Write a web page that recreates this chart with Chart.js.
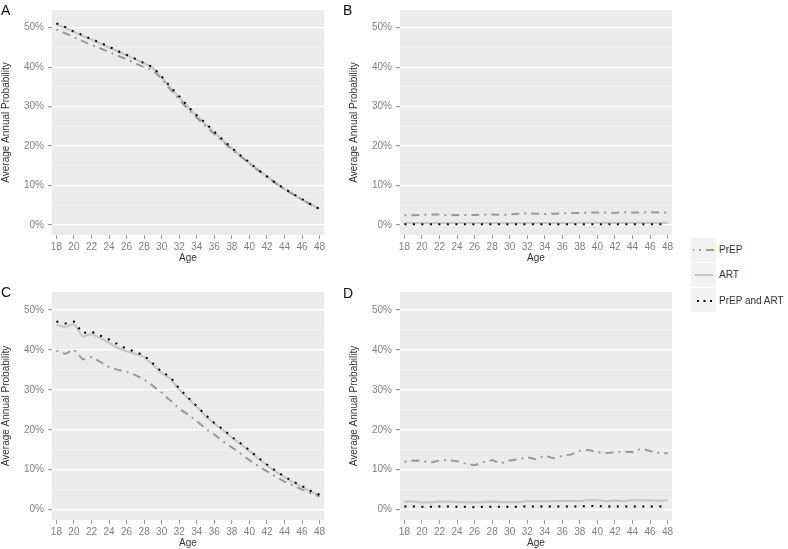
<!DOCTYPE html>
<html>
<head>
<meta charset="utf-8">
<script src="https://cdn.jsdelivr.net/npm/chart.js@4/dist/chart.umd.min.js"></script>
<style>
  html, body { margin:0; padding:0; background:#ffffff; }
  body { width:788px; height:549px; position:relative; overflow:hidden; font-family:'Liberation Sans', Arial, sans-serif; }
  .cv { position:absolute; }
  .letter { position:absolute; font-size:14px; line-height:14px; color:#111; }
  .key { position:absolute; left:691px; width:25px; height:24px; background:#f2f2f2; }
  .key svg { position:absolute; left:0; top:0; }
  .ktxt { position:absolute; left:719px; font-size:10px; line-height:12px; color:#333; }
</style>
</head>
<body>
<canvas id="cA" class="cv" width="332" height="264" style="left:0px;top:0px;"></canvas>
<canvas id="cB" class="cv" width="332" height="264" style="left:348px;top:0px;"></canvas>
<canvas id="cC" class="cv" width="332" height="279" style="left:0px;top:270px;"></canvas>
<canvas id="cD" class="cv" width="332" height="279" style="left:348px;top:270px;"></canvas>
<div class="letter" style="left:1px;top:3px;">A</div>
<div class="letter" style="left:343px;top:3px;">B</div>
<div class="letter" style="left:1px;top:285px;">C</div>
<div class="letter" style="left:343px;top:286px;">D</div>

<div class="key" style="top:238px;"><svg width="25" height="24"><line x1="2" y1="12" x2="24" y2="12" stroke="#9a9a9a" stroke-width="2" stroke-dasharray="2,5,8,5" stroke-dashoffset="-6"/></svg></div>
<div class="ktxt" style="top:244px;">PrEP</div>
<div class="key" style="top:263px;"><svg width="25" height="24"><line x1="4" y1="12" x2="22" y2="12" stroke="#c8c8c8" stroke-width="2"/></svg></div>
<div class="ktxt" style="top:269px;">ART</div>
<div class="key" style="top:288px;"><svg width="25" height="24"><line x1="6" y1="13" x2="24" y2="13" stroke="#000" stroke-width="2" stroke-dasharray="2,4.5"/></svg></div>
<div class="ktxt" style="top:295px;">PrEP and ART</div>

<script>
// ---- data ----
const ages = [18,19,20,21,22,23,24,25,26,27,28,29,30,31,32,33,34,35,36,37,38,39,40,41,42,43,44,45,46,47,48];
const xTicks = [18,20,22,24,26,28,30,32,34,36,38,40,42,44,46,48];
const yTicks = [0,5,10,15,20,25,30,35,40,45,50];
const seriesNames = ['PrEP','ART','PrEP and ART'];

// Panel A
const prepA = [49.6,48.6,47.6,46.6,45.6,44.8,43.8,42.9,42.0,40.9,40.0,39.2,37.0,34.3,31.8,29.3,27.2,25.0,23.0,21.0,19.1,17.3,15.5,13.8,12.1,10.5,9.0,7.7,6.4,5.1,4.0];
const artA  = [50.9,50.0,48.9,47.9,47.0,46.0,45.0,44.0,43.0,42.0,41.0,39.8,37.4,34.8,32.3,29.8,27.6,25.5,23.4,21.3,19.4,17.5,15.7,13.9,12.2,10.6,9.1,7.7,6.4,5.2,4.0];
const bothA = [51.1,50.2,49.0,48.1,47.1,46.2,45.2,44.1,43.1,42.1,41.0,40.0,37.6,35.0,32.6,30.0,27.8,25.8,23.6,21.5,19.5,17.6,15.8,13.9,12.3,10.6,9.1,7.8,6.5,5.2,4.0];

// Panel B
const prepB = [2.4,2.4,2.5,2.6,2.6,2.4,2.5,2.5,2.5,2.6,2.6,2.5,2.6,2.8,2.9,2.8,2.7,2.8,2.9,3.0,3.0,3.1,3.1,3.1,3.0,3.2,3.1,3.1,3.2,3.1,3.1];
const artB  = [0.4,0.4,0.4,0.4,0.4,0.4,0.4,0.4,0.4,0.4,0.4,0.4,0.4,0.4,0.4,0.4,0.4,0.4,0.4,0.4,0.5,0.5,0.5,0.5,0.5,0.5,0.5,0.5,0.5,0.5,0.5];
const bothB = [0.1,0.1,0.1,0.1,0.1,0.1,0.1,0.1,0.1,0.1,0.1,0.1,0.1,0.1,0.1,0.1,0.1,0.1,0.1,0.1,0.1,0.1,0.1,0.1,0.1,0.1,0.1,0.1,0.1,0.1,0.1];

// Panel C
const prepC = [39.8,39.0,40.1,37.6,38.2,37.0,35.7,35.0,34.5,33.7,32.6,31.0,29.3,27.3,25.3,23.8,22.2,20.3,18.8,17.1,15.6,14.0,12.4,10.9,9.6,8.3,7.0,6.0,5.0,4.1,3.3];
const artC  = [46.3,45.7,46.5,43.3,44.0,43.0,41.8,40.5,39.7,39.0,38.2,36.3,34.2,32.8,30.0,27.9,25.7,23.5,21.5,19.9,18.0,16.4,14.7,12.8,11.1,9.5,8.1,6.8,5.7,4.5,3.6];
const bothC = [47.1,46.6,47.1,44.2,44.6,43.6,42.6,41.4,40.3,39.5,38.6,36.6,34.5,33.2,30.3,28.1,25.9,23.7,21.7,20.1,18.2,16.6,14.9,13.0,11.3,9.7,8.3,7.0,5.9,4.7,3.7];

// Panel D
const prepD = [12.0,12.3,12.2,11.8,12.3,12.4,12.1,11.5,11.1,11.9,12.4,11.6,12.3,12.6,13.1,12.6,13.5,12.9,13.5,13.8,14.8,14.9,14.4,14.2,14.3,14.5,14.4,15.3,14.7,14.2,14.1];
const artD  = [2.0,2.0,1.8,1.8,2.0,2.0,1.9,1.9,1.8,1.9,2.0,1.9,1.9,1.9,2.1,2.1,2.1,2.1,2.2,2.2,2.1,2.4,2.4,2.1,2.3,2.1,2.4,2.3,2.3,2.2,2.4];
const bothD = [0.8,0.8,0.7,0.7,0.8,0.8,0.7,0.7,0.6,0.7,0.7,0.7,0.7,0.7,0.8,0.8,0.8,0.8,0.8,0.8,0.8,0.9,0.9,0.8,0.8,0.8,0.8,0.8,0.8,0.8,0.8];

// ---- styling ----
Chart.defaults.font.family = "'Liberation Sans', Arial, sans-serif";
Chart.defaults.font.size = 10;

const panelBg = {
  id: 'panelBg',
  beforeDraw(chart) {
    const a = chart.chartArea, c = chart.ctx;
    c.save();
    c.fillStyle = '#ebebeb';
    c.fillRect(a.left, a.top, a.right - a.left, a.bottom - a.top);
    c.restore();
  }
};

function pts(vals) { return ages.map((a, i) => ({x: a, y: vals[i]})); }

function makePanel(id, prep, art, both, topPad) {
  new Chart(document.getElementById(id), {
    type: 'line',
    data: {
      datasets: [
        { label: seriesNames[2], data: pts(both), borderColor: '#000000', borderWidth: 2, borderDash: [2, 6.5], borderCapStyle: 'butt', pointRadius: 0, tension: 0, order: 0 },
        { label: seriesNames[0], data: pts(prep), borderColor: '#9a9a9a', borderWidth: 2, borderDash: [2, 5, 8, 5], borderCapStyle: 'butt', pointRadius: 0, tension: 0, order: 1 },
        { label: seriesNames[1], data: pts(art), borderColor: '#c8c8c8', borderWidth: 2.2, pointRadius: 0, tension: 0, order: 2 }
      ]
    },
    options: {
      responsive: false,
      animation: false,
      events: [],
      layout: { padding: { top: topPad, right: 8, left: 0, bottom: 0 } },
      plugins: { legend: { display: false }, tooltip: { enabled: false } },
      scales: {
        x: {
          type: 'linear', min: 17.5, max: 48.5,
          afterBuildTicks: s => { s.ticks = xTicks.map(v => ({value: v})); },
          afterFit: s => { s.height = 29; },
          border: { display: false },
          grid: { drawOnChartArea: false, drawTicks: true, tickLength: 4, tickColor: '#9a9a9a' },
          ticks: { color: '#808080', padding: 2, maxRotation: 0, autoSkip: false, font: { size: 10 } },
          title: { display: true, text: 'Age', color: '#333333', font: { size: 10 }, padding: { top: 0, bottom: 0 } }
        },
        y: {
          type: 'linear', min: -2.6, max: 54.5,
          afterBuildTicks: s => { s.ticks = yTicks.map(v => ({value: v})); },
          afterFit: s => { s.width = 52; },
          border: { display: false },
          grid: {
            color: c => (c.tick && c.tick.value % 10 === 0) ? '#ffffff' : '#f4f4f4',
            lineWidth: c => (c.tick && c.tick.value % 10 === 0) ? 1.2 : 0.8,
            tickColor: c => (c.tick && c.tick.value % 10 === 0) ? '#9a9a9a' : 'rgba(0,0,0,0)',
            tickLength: 4, drawTicks: true
          },
          ticks: {
            color: '#808080', padding: 4, autoSkip: false, font: { size: 10 },
            callback: v => (v % 10 === 0) ? v + '%' : ''
          },
          title: { display: true, text: 'Average Annual Probability', color: '#333333', font: { size: 10 }, padding: { top: 0, bottom: 0 } }
        }
      }
    },
    plugins: [panelBg]
  });
}

makePanel('cA', prepA, artA, bothA, 5);
makePanel('cB', prepB, artB, bothB, 5);
makePanel('cC', prepC, artC, bothC, 22);
makePanel('cD', prepD, artD, bothD, 22);
</script>
</body>
</html>
